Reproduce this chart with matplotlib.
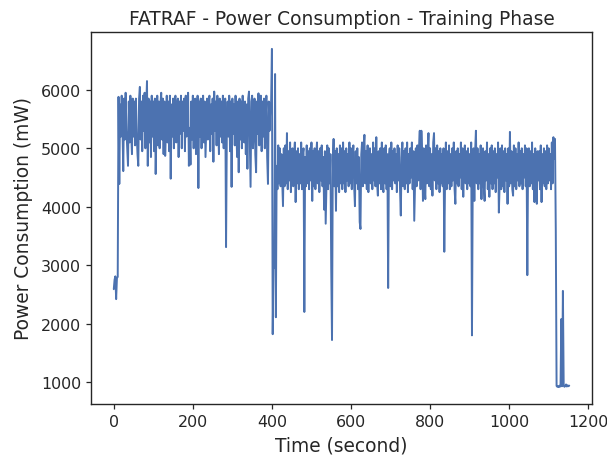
import numpy as np
import matplotlib
matplotlib.use("Agg")
import matplotlib.pyplot as plt
import seaborn as sns

sns.set_theme(style="ticks")
plt.rcParams.update({
    "xtick.labelsize": 11.4,
    "ytick.labelsize": 11.4,
    "xtick.major.size": 3.5,
    "ytick.major.size": 3.5,
    "xtick.major.width": 0.9,
    "ytick.major.width": 0.9,
    "axes.linewidth": 1.0,
})

# sampling interval of the logged power readings (seconds)
step = 2

# power readings in mW, grouped by phase
startup = [2590, 2750, 2810, 2420, 2780, 2800, 5880, 4390]

phase_high = [
    5750, 5200, 5900, 5350, 4610, 5850, 5150, 5950, 5300, 5000,
    4700, 5800, 5100, 5900, 5250, 4900, 5850, 5200, 5800, 5050,
    5850, 5250, 4900, 4700, 5850, 6050, 5150, 5800, 4950, 5900,
    5300, 5950, 5000, 5700, 6150, 4700, 5850, 5100, 5800, 4850,
    5900, 5200, 5800, 4950, 5850, 4560, 5350, 5900, 5050, 5800,
    5000, 5750, 5950, 5150, 5850, 4900, 5800, 4870, 5300, 5900,
    5100, 5800, 4950, 5900, 4480, 5750, 5200, 5850, 5000, 5800,
    5900, 5100, 5700, 5850, 4850, 5800, 5250, 5900, 5000, 5800,
    5300, 5850, 4950, 5900, 5200, 5750, 5950, 4700, 5350, 4720,
    5800, 5150, 5900, 5000, 5800, 5850, 4900, 5300, 5900, 4320,
    5800, 5200, 5850, 5000, 5750, 5900, 5100, 5800, 4850, 5350,
    5850, 5150, 5800, 5900, 4950, 5750, 5250, 5850, 4770, 5970,
    5300, 5800, 5050, 5900, 5350, 4900, 5850, 5200, 5800, 5100,
    5900, 5000, 5750, 5850, 3310, 5300, 5800, 5200, 5900, 4950,
    5800, 4340, 5850, 5250, 5750, 5050, 5900, 5300, 4850, 5800,
    4590, 5850, 5150, 5800, 5000, 5900, 5350, 5100, 5800, 4900,
    5750, 4650, 5850, 5970, 5200, 4340, 5800, 5900, 5000, 5350,
    5850, 4900, 4590, 5800, 5250, 5940, 5050, 5750, 5900, 4950,
    5800, 5200, 5850, 5000, 5350, 5900, 4850, 4390, 5800, 5300,
    5700,
]

transition = [5800, 6700, 1820, 2970, 2950, 6270, 2110]

phase_low = [
    4700, 4300, 5050, 4400, 5000, 4350, 4900, 4450, 4010, 5000,
    4350, 5050, 4400, 5260, 4300, 4950, 4450, 5100, 4250, 4900,
    5000, 4350, 4850, 5100, 4080, 4950, 4400, 5000, 4300, 4900,
    4400, 5100, 4300, 4900, 5000, 2200, 4850, 4350, 5050, 4400,
    4950, 4300, 5000, 4450, 5100, 4100, 4950, 4350, 5000, 4300,
    4900, 5100, 4400, 4950, 4250, 5000, 4450, 5050, 4350, 4850,
    3950, 4950, 3710, 4400, 5050, 4300, 5000, 4400, 4900, 2970,
    1720, 4800, 5160, 4350, 4950, 3930, 5000, 4350, 4900, 4250,
    5050, 4400, 5000, 4300, 5100, 4400, 4950, 4250, 5000, 4450,
    4900, 4350, 5100, 4400, 5000, 4300, 4850, 5050, 4350, 4010,
    4950, 4400, 5000, 4300, 4850, 3740, 3620, 4900, 5100, 4350,
    5000, 5230, 4400, 4950, 4300, 5050, 4250, 4900, 5000, 4400,
    4900, 4300, 5100, 4450, 5000, 4350, 5190, 4400, 4190, 4950,
    4400, 5000, 4300, 5100, 4450, 4250, 5000, 4400, 5050, 4300,
    4900, 2610, 4850, 5000, 4350, 5100, 4300, 4950, 4450, 5000,
    4400, 4900, 4250, 5050, 4450, 5000, 4300, 3850, 4850, 5100,
    4350, 4950, 4300, 5000, 4400, 5100, 4250, 4900, 4400, 5000,
    4500, 5100, 4300, 4950, 3760, 4400, 5000, 4350, 5050, 4450,
    5000, 5300, 4300, 5300, 4900, 4100, 5000, 4350, 4130, 5050,
    4400, 4950, 5260, 4350, 5000, 4300, 4900, 4190, 5100, 5260,
    4450, 5000, 4300, 5050, 4400, 4950, 4250, 5000, 4400, 4900,
    4350, 5000, 3230, 4500, 5100, 4300, 4950, 4400, 5050, 4300,
    4900, 4350, 5000, 4450, 5100, 4300, 4050, 4950, 4400, 5000,
    4350, 4900, 4500, 5100, 4300, 5000, 4170, 4850, 5050, 4400,
    4950, 4300, 5000, 4400, 4900, 4350, 5100, 1800, 4500, 5000,
    4100, 4950, 5300, 4400, 5000, 4300, 4900, 4400, 5050, 4130,
    4850, 5000, 4350, 4100, 4950, 4450, 5100, 4300, 4900, 4170,
    5000, 4400, 5050, 4300, 4950, 4400, 5000, 4250, 4900, 4500,
    5100, 3900, 4400, 5000, 4300, 5050, 4350, 4950, 4250, 5000,
    4450, 4900, 4050, 5000, 4350, 5280, 4400, 4950, 4300, 4190,
    5050, 4350, 5000, 4300, 4900, 4450, 5100, 4350, 4950, 4400,
    5000, 4300, 4900, 4500, 5050, 4350, 5000, 2830, 4850, 5000,
    4350, 4950, 4400, 5100, 4300, 4900, 4080, 5000, 4350, 4050,
    4950, 4450, 4950, 4300, 5050, 4080, 4900, 4400, 5000, 4350,
    4950, 4300, 5050, 4400, 5000, 4450, 4900, 4300, 5100, 4400,
    5190, 4820, 5160, 3590,
]

shutdown = [935, 920, 930, 915, 940, 925, 2080, 930, 2560, 940,
            920, 935, 960, 925, 945, 930, 940]

power = np.array(startup + phase_high + transition + phase_low + shutdown)
time = np.arange(len(power)) * step

fig = plt.figure(figsize=(6.07, 4.56), dpi=100)
ax = fig.add_axes([91 / 607, 1 - 405 / 456, 501 / 607, 372 / 456])
ax.plot(time, power, color="#4c72b0", linewidth=1.4)
ax.set_title("FATRAF - Power Consumption - Training Phase", fontsize=13.4)
ax.set_xlabel("Time (second)", fontsize=13.4, labelpad=5)
ax.set_ylabel("Power Consumption (mW)", fontsize=13.4, labelpad=6)

fig.savefig("out.png", dpi=100)
